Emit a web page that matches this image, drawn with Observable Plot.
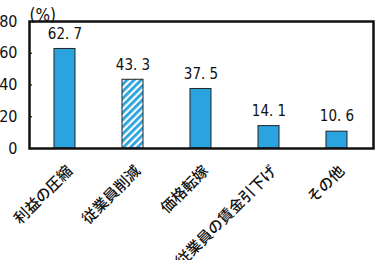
<!DOCTYPE html>
<html><head><meta charset="utf-8">
<script src="https://cdn.jsdelivr.net/npm/d3@7"></script>
<script src="https://cdn.jsdelivr.net/npm/@observablehq/plot@0.6"></script>
<style>
body{margin:0;background:#fff;}
</style>
</head><body>
<div id="chart"></div>
<script>
const categories = ["利益の圧縮","従業員削減","価格転嫁","従業員の賃金引下げ","その他"];
const values = [62.7, 43.3, 37.5, 14.1, 10.6];
const hatched = [false, true, false, false, false];
const valueLabels = ["62. 7","43. 3","37. 5","14. 1","10. 6"];
const yTicks = [0, 20, 40, 60, 80];
const innerTicks = [20, 40, 60];

const data = categories.map((c, i) => ({cat: c, v: values[i], h: hatched[i], lab: valueLabels[i]}));
const blue = "#2aa3de";
const numFont = "'Liberation Sans Narrow','DejaVu Sans Condensed',sans-serif";

const chart = Plot.plot({
  width: 375, height: 260,
  marginLeft: 29, marginRight: 2, marginTop: 21, marginBottom: 112,
  style: {fontFamily: "'Noto Sans CJK JP', sans-serif", background: "#fff", color: "#111"},
  x: {domain: categories, paddingInner: 0.69, paddingOuter: 0.345, label: null},
  y: {domain: [0, 80], label: null},
  marks: [
    Plot.axisY({ticks: yTicks, tickSize: 0, tickPadding: 12, fontSize: 16, label: null, fontFamily: numFont}),
    Plot.axisY({ticks: innerTicks, tickSize: -3, text: null, label: null, strokeWidth: 1.2}),
    Plot.axisX({tickSize: 0, tickPadding: 20, dx: 5, tickRotate: -45, fontSize: 15, fontWeight: 500, label: null}),
    Plot.barY(data.filter(d => !d.h), {x: "cat", y: "v", fill: blue, stroke: "#222", strokeWidth: 1}),
    Plot.barY(data.filter(d => d.h), {x: "cat", y: "v", fill: "url(#hatch)", stroke: "#222", strokeWidth: 1}),
    Plot.text(data, {x: "cat", y: "v", text: "lab", dy: -15, fontSize: 15, fontFamily: numFont, fill: "#111"}),
    Plot.frame({stroke: "#111", strokeWidth: 2.5}),
    Plot.text(["(%)"], {frameAnchor: "top-left", dy: -13, dx: 0, textAnchor: "start", fontSize: 17,
      fontFamily: numFont, fill: "#111"})
  ]
});

const svgns = "http://www.w3.org/2000/svg";
const defs = document.createElementNS(svgns, "defs");
defs.innerHTML = `<pattern id="hatch" patternUnits="userSpaceOnUse" width="5" height="5" patternTransform="rotate(45)">
  <rect width="5" height="5" fill="#fff"/><rect width="2.8" height="5" fill="${blue}"/></pattern>`;
chart.insertBefore(defs, chart.firstChild);
document.getElementById("chart").appendChild(chart);
</script>
</body></html>
